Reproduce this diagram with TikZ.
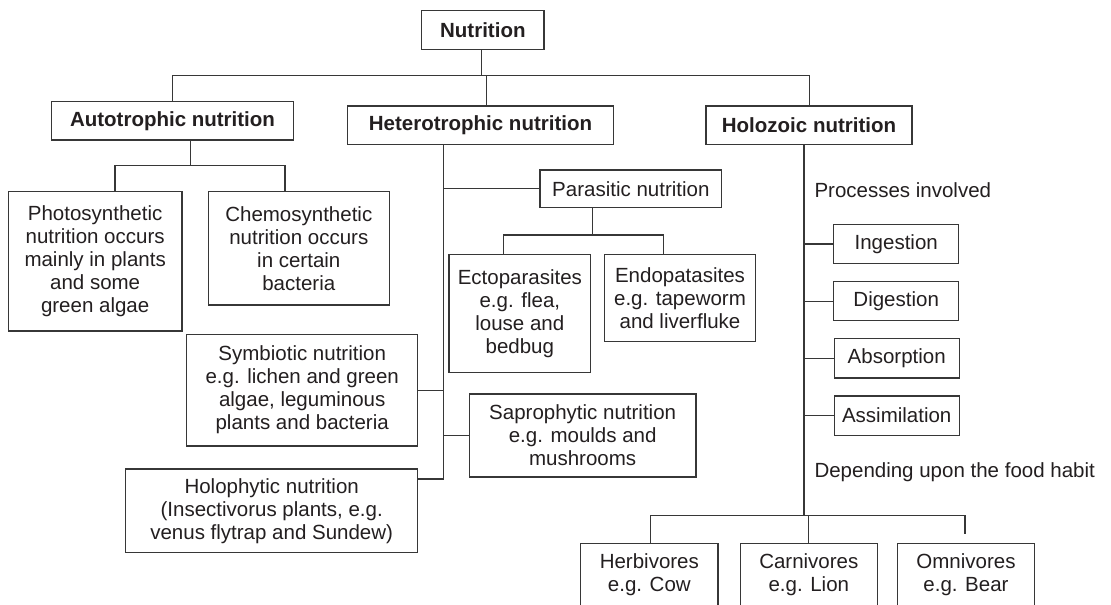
\documentclass[tikz,border=0pt]{standalone}
\usepackage{fontspec}
\setmainfont{Liberation Sans}
\definecolor{linec}{RGB}{55,55,55}
\definecolor{txtc}{RGB}{35,31,32}
\begin{document}
\begin{tikzpicture}[x=1pt,y=-1pt,
  conn/.style={draw=linec, line width=1.2pt},
  box/.style={draw=linec, line width=1.2pt, inner sep=0pt, align=center,
    font=\fontsize{20.5}{23}\selectfont, text=txtc},
  bbox/.style={box, font=\fontsize{20.5}{23}\selectfont\bfseries},
  lbl/.style={inner sep=0pt, anchor=west, text=txtc, font=\fontsize{20.5}{23}\selectfont}]
\useasboundingbox (0,0) rectangle (1111,605);
\clip (0,0) rectangle (1111,605);
\fill[white] (0,0) rectangle (1111,605);

% level 0 and 1
\node[bbox, minimum width=122.3pt, minimum height=38.6pt] (nutr) at (482.85,30) {Nutrition};
\node[bbox, minimum width=241.6pt, minimum height=38.3pt] (auto) at (172.5,120.85) {Autotrophic nutrition};
\node[bbox, minimum width=265.6pt, minimum height=38.5pt] (het) at (480.5,125.25) {Heterotrophic nutrition};
\node[bbox, minimum width=206pt, minimum height=38.5pt] (holo) at (809,125.25) {Holozoic nutrition};

% autotrophic children
\node[box, minimum width=173.7pt, minimum height=139.3pt] (photo) at (95.15,261.35)
  {Photosynthetic\\nutrition occurs\\mainly in plants\\and some\\green algae};
\node[box, minimum width=181pt, minimum height=113.3pt] (chem) at (298.8,248.35)
  {Chemosynthetic\\nutrition occurs\\in certain\\bacteria};

% heterotrophic children
\node[box, minimum width=181.7pt, minimum height=37.7pt] (para) at (630.85,188.85) {Parasitic nutrition};
\node[box, minimum width=141.7pt, minimum height=118pt] (ecto) at (519.85,313.3)
  {Ectoparasites\\e.g. flea,\\louse and\\bedbug};
\node[box, minimum width=151.4pt, minimum height=87.4pt] (endo) at (680,298)
  {Endopatasites\\e.g. tapeworm\\and liverfluke};
\node[box, minimum width=231pt, minimum height=111.7pt] (symb) at (302.2,390.15)
  {Symbiotic nutrition\\e.g. lichen and green\\algae, leguminous\\plants and bacteria};
\node[box, minimum width=226.7pt, minimum height=83pt] (sapro) at (582.65,435.5)
  {Saprophytic nutrition\\e.g. moulds and\\mushrooms};
\node[box, minimum width=292pt, minimum height=83.7pt] (hphy) at (271.7,510.85)
  {Holophytic nutrition\\(Insectivorus plants, e.g.\\venus flytrap and Sundew)};

% holozoic children
\node[lbl] (proc) at (814.3,190) {Processes involved};
\node[box, minimum width=125pt, minimum height=39.2pt] (inge) at (896.2,244) {Ingestion};
\node[box, minimum width=125pt, minimum height=39.2pt] (dige) at (896.2,301.2) {Digestion};
\node[box, minimum width=125pt, minimum height=39.2pt] (abso) at (896.7,358.35) {Absorption};
\node[box, minimum width=125pt, minimum height=39.2pt] (assi) at (896.7,415.5) {Assimilation};
\node[lbl] (dep) at (814.3,472.3) {Depending upon the food habit};
\node[box, minimum width=137.3pt, minimum height=63pt] (herb) at (649.35,574.8) {Herbivores\\e.g. Cow};
\node[box, minimum width=137pt, minimum height=63pt] (carn) at (808.8,574.8) {Carnivores\\e.g. Lion};
\node[box, minimum width=136.6pt, minimum height=63pt] (omni) at (966,574.8) {Omnivores\\e.g. Bear};

% junction coordinates
\coordinate (busN) at (481.7,75.3);
\coordinate (busL) at (172.7,75.3);
\coordinate (busM) at (486.7,75.3);
\coordinate (busR) at (809.3,75.3);
\coordinate (aS) at (190.7,165.7);
\coordinate (aL) at (115,165.7);
\coordinate (aR) at (285,165.7);
\coordinate (hS) at (443.3,479);
\coordinate (pS) at (592.7,235);
\coordinate (pL) at (503.3,235);
\coordinate (pR) at (663.7,235);
\coordinate (zS) at (804,515.7);
\coordinate (zL) at (650.3,515.7);
\coordinate (zM) at (808.7,515.7);
\coordinate (zR) at (965,515.7);
\coordinate (zRend) at (965,534);

% connectors: top level
\draw[conn] (nutr.south -| busN) -- (busN);
\draw[conn] (busL |- auto.north) -- (busL) -- (busR) -- (busR |- holo.north);
\draw[conn] (busM) -- (busM |- het.north);

% autotrophic
\draw[conn] (auto.south -| aS) -- (aS);
\draw[conn] (aL |- photo.north) -- (aL) -- (aR) -- (aR |- chem.north);

% heterotrophic
\draw[conn] (het.south -| hS) -- (hS) -- (hphy.east |- hS);
\draw[conn] (hS |- para.west) -- (para.west);
\draw[conn] (symb.east) -- (hS |- symb.east);
\draw[conn] (hS |- sapro.west) -- (sapro.west);
\draw[conn] (para.south -| pS) -- (pS);
\draw[conn] (pL |- ecto.north) -- (pL) -- (pR) -- (pR |- endo.north);

% holozoic
\draw[conn] (holo.south -| zS) -- (zS);
\draw[conn] (zS |- inge.west) -- (inge.west);
\draw[conn] (zS |- dige.west) -- (dige.west);
\draw[conn] (zS |- abso.west) -- (abso.west);
\draw[conn] (zS |- assi.west) -- (assi.west);
\draw[conn] (zL |- herb.north) -- (zL) -- (zR) -- (zRend);
\draw[conn] (zM) -- (zM |- carn.north);
\end{tikzpicture}
\end{document}
